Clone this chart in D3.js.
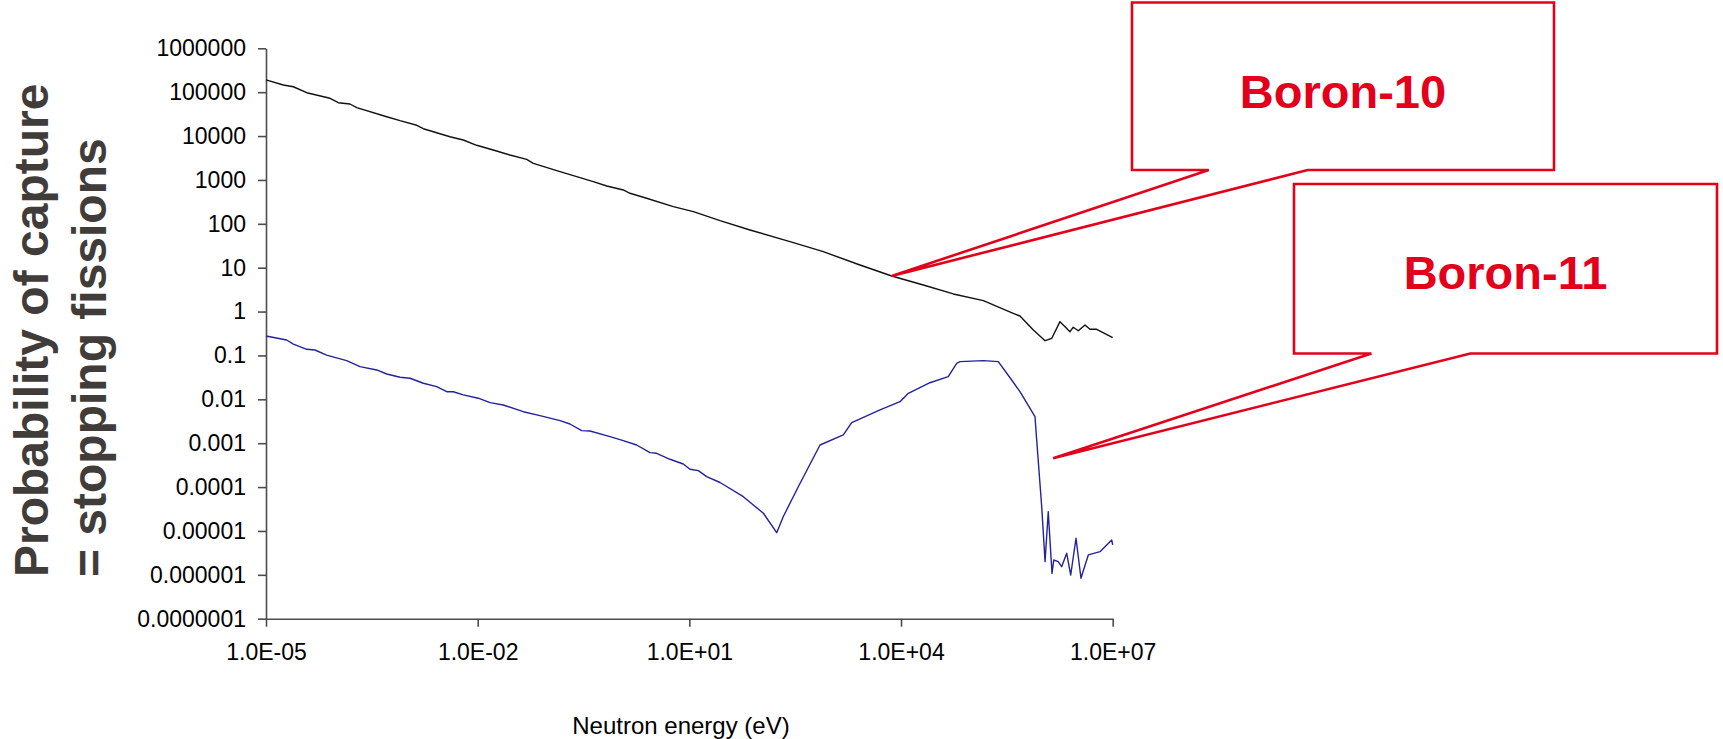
<!DOCTYPE html>
<html>
<head>
<meta charset="utf-8">
<script src="https://cdn.jsdelivr.net/npm/d3@7"></script>
<style>
  html, body { margin: 0; padding: 0; background: #fff; }
  svg { display: block; }
  text { font-family: "Liberation Sans", Arial, sans-serif; }
</style>
</head>
<body>
<svg id="chart" width="1723" height="739"></svg>
<script>
// Neutron energy (eV) and capture probability for Boron-10
const b10Energy = [1e-5, 1.76e-5, 2.44e-5, 3.78e-5, 8.07e-5, 1.06e-4, 1.55e-4, 1.93e-4, 5.14e-4, 7.93e-4,
  1.37e-3, 1.70e-3, 4.05e-3, 6.25e-3, 9.68e-3, 1.66e-2, 2.87e-2, 4.95e-2, 6.14e-2, 0.147,
  0.253, 0.435, 0.675, 1.16, 1.44, 2.48, 5.92, 11.4, 27.2, 72.3,
  267, 791, 2620, 7380, 2.07e4, 5.51e4, 1.47e5, 3.89e5, 4.85e5, 7.50e5,
  1.10e6, 1.37e6, 1.79e6, 2.11e6, 2.48e6, 2.76e6, 3.25e6, 4.05e6, 4.76e6, 5.93e6, 1.0e7];
const b10Capture = [1.90e5, 1.46e5, 1.33e5, 9.73e4, 7.26e4, 5.76e4, 5.38e4, 4.43e4, 2.76e4, 2.24e4,
  1.76e4, 1.47e4, 9.66e3, 8.13e3, 6.16e3, 4.81e3, 3.70e3, 2.95e3, 2.39e3, 1.54e3,
  1.19e3, 912, 728, 590, 497, 382, 246, 189, 118, 72.3,
  39.2, 23.2, 11.5, 6.47, 4.03, 2.52, 1.77, 0.914, 0.793, 0.380,
  0.217, 0.246, 0.588, 0.452, 0.348, 0.438, 0.366, 0.494, 0.394, 0.394, 0.254];

// Neutron energy (eV) and capture probability for Boron-11
const b11Energy = [1e-5, 1.96e-5, 2.44e-5, 3.78e-5, 4.94e-5, 7.24e-5, 1.39e-4, 2.15e-4, 3.71e-4, 5.14e-4,
  7.93e-4, 1.10e-3, 1.70e-3, 2.62e-3, 3.64e-3, 4.51e-3, 6.25e-3, 1.02e-2, 1.50e-2, 2.31e-2,
  4.43e-2, 7.64e-2, 0.147, 0.203, 0.298, 0.391, 0.750, 1.16, 1.79, 2.77,
  3.44, 5.32, 8.21, 10.2, 13.4, 17.6, 27.2, 58.2, 112, 173,
  214, 350, 711, 1520, 2000, 5040, 9670, 1.27e4, 2.57e4, 4.67e4,
  6.15e4, 6.85e4, 1.47e5, 2.39e5, 3.70e5, 4.85e5, 7.92e5, 8.37e5, 9.86e5, 1.10e6,
  1.22e6, 1.38e6, 1.46e6, 1.69e6, 1.89e6, 2.23e6, 2.54e6, 3.02e6, 3.55e6, 4.51e6,
  6.61e6, 9.68e6, 1.0e7];
const b11Capture = [0.277, 0.225, 0.182, 0.138, 0.133, 0.102, 0.0760, 0.0555, 0.0467, 0.0378,
  0.0318, 0.0302, 0.0232, 0.0194, 0.0149, 0.0149, 0.0126, 0.0106, 8.38e-3, 7.43e-3,
  5.22e-3, 4.24e-3, 3.26e-3, 2.74e-3, 1.93e-3, 1.90e-3, 1.41e-3, 1.14e-3, 9.10e-4, 6.08e-4,
  5.89e-4, 4.30e-4, 3.36e-4, 2.55e-4, 2.37e-4, 1.73e-4, 1.27e-4, 6.04e-5, 2.53e-5, 9.14e-6,
  2.11e-5, 1.02e-4, 9.10e-4, 1.54e-3, 2.94e-3, 5.72e-3, 8.83e-3, 0.0137, 0.0239, 0.0328,
  0.0662, 0.0721, 0.0760, 0.0721, 0.0276, 0.0149, 4.02e-3, 1.18e-3, 3.57e-5, 2.0e-6,
  2.75e-5, 1.08e-6, 2.18e-6, 2.0e-6, 1.53e-6, 3.10e-6, 9.9e-7, 6.81e-6, 8.34e-7, 2.84e-6,
  3.37e-6, 6.22e-6, 4.79e-6];

// Axis ticks
const xTickValues = [1e-5, 1e-2, 1e1, 1e4, 1e7];
const xTickLabels = ["1.0E-05", "1.0E-02", "1.0E+01", "1.0E+04", "1.0E+07"];
const yTickValues = [1e6, 1e5, 1e4, 1e3, 1e2, 1e1, 1, 1e-1, 1e-2, 1e-3, 1e-4, 1e-5, 1e-6, 1e-7];
const yTickLabels = ["1000000", "100000", "10000", "1000", "100", "10", "1", "0.1", "0.01",
  "0.001", "0.0001", "0.00001", "0.000001", "0.0000001"];

// Callout labels and the points they refer to [energy, value]
const calloutLabels = ["Boron-10", "Boron-11"];
const calloutTargets = [[7380, 6.47], [1.43e6, 4.56e-4]];

const svg = d3.select("#chart");
const plot = { left: 266, right: 1112.7, top: 48.3, bottom: 618.7 };

const x = d3.scaleLog().domain([1e-5, 1e7]).range([plot.left, plot.right]);
const y = d3.scaleLog().domain([1e-7, 1e6]).range([plot.bottom, plot.top]);

const axisColor = "#4d4d4d";

// Y axis
const yAxis = svg.append("g")
  .attr("transform", `translate(${plot.left},0)`)
  .call(d3.axisLeft(y).tickValues(yTickValues)
    .tickFormat((d, i) => yTickLabels[i]).tickSize(8).tickSizeOuter(0).tickPadding(12));

// X axis
const xAxis = svg.append("g")
  .attr("transform", `translate(0,${plot.bottom})`)
  .call(d3.axisBottom(x).tickValues(xTickValues)
    .tickFormat((d, i) => xTickLabels[i]).tickSize(8).tickSizeOuter(0).tickPadding(17));

[yAxis, xAxis].forEach(g => {
  g.select(".domain").attr("stroke", axisColor).attr("stroke-width", 1.6);
  g.selectAll(".tick line").attr("stroke", axisColor).attr("stroke-width", 1.6);
  g.selectAll(".tick text").attr("fill", "#000").style("font-size", "23px")
    .style("font-family", '"Liberation Sans", Arial, sans-serif');
});

// Curves
const line = d3.line().x(d => x(d[0])).y(d => y(d[1]));
const b10 = b10Energy.map((e, i) => [e, b10Capture[i]]);
const b11 = b11Energy.map((e, i) => [e, b11Capture[i]]);

svg.append("path").datum(b11)
  .attr("fill", "none").attr("stroke", "#22229c").attr("stroke-width", 1.4)
  .attr("stroke-linejoin", "round").attr("d", line);
svg.append("path").datum(b10)
  .attr("fill", "none").attr("stroke", "#111").attr("stroke-width", 1.4)
  .attr("stroke-linejoin", "round").attr("d", line);

// Axis titles
svg.append("text")
  .attr("x", 681).attr("y", 734)
  .attr("text-anchor", "middle").style("font-size", "24px").attr("fill", "#000")
  .text("Neutron energy (eV)");

const yTitle = svg.append("text")
  .attr("transform", "translate(0,577) rotate(-90)")
  .attr("text-anchor", "start")
  .style("font-size", "48px").style("font-weight", "bold").attr("fill", "#3f3c3a");
yTitle.append("tspan").attr("x", 0).attr("y", 48).text("Probability of capture");
yTitle.append("tspan").attr("x", 0).attr("y", 106).text("= stopping fissions");

// Callout boxes
const red = "#e2001a";
const boxes = [
  { x0: 1132, x1: 1554, y0: 2.5, y1: 170, tail: [1208.8, 1307.7] },
  { x0: 1294, x1: 1717, y0: 184, y1: 353.5, tail: [1371.4, 1470.3] }
];

boxes.forEach((b, i) => {
  const tx = x(calloutTargets[i][0]);
  const ty = y(calloutTargets[i][1]);
  const p = d3.path();
  p.moveTo(b.x0, b.y0);
  p.lineTo(b.x1, b.y0);
  p.lineTo(b.x1, b.y1);
  p.lineTo(b.tail[1], b.y1);
  p.lineTo(tx, ty);
  p.lineTo(b.tail[0], b.y1);
  p.lineTo(b.x0, b.y1);
  p.closePath();
  svg.append("path").attr("d", p.toString())
    .attr("fill", "#fff").attr("stroke", red).attr("stroke-width", 2.6)
    .attr("stroke-linejoin", "miter");
  svg.append("text")
    .attr("x", (b.x0 + b.x1) / 2).attr("y", b.y0 + 105)
    .attr("text-anchor", "middle")
    .style("font-size", "47px").style("font-weight", "bold").attr("fill", red)
    .text(calloutLabels[i]);
});
</script>
</body>
</html>
